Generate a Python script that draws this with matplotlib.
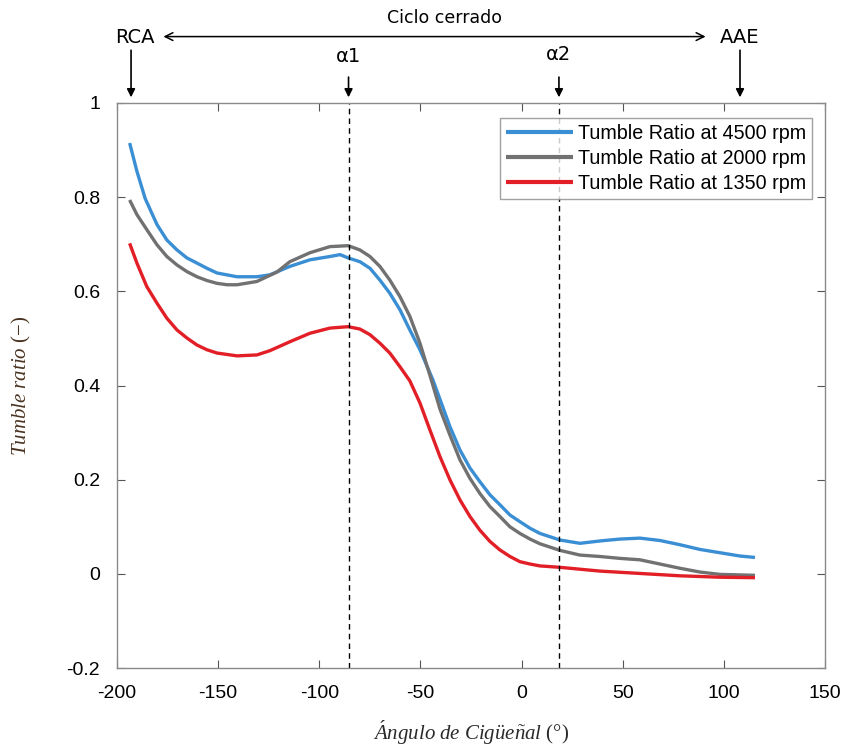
import matplotlib
matplotlib.use("Agg")
import matplotlib.pyplot as plt

# crank angle [deg] and tumble ratio for each engine speed
ang_4500 = [-193.7, -190.1, -186.0, -180.2, -175.3, -170.3, -165.4, -160.4, -155.5,
            -150.5, -140.6, -130.8, -124.4, -114.5, -104.6, -94.7, -89.7, -85.7,
            -79.9, -74.9, -70.0, -65.1, -60.1, -55.2, -50.2, -43.8, -35.4, -30.4,
            -25.5, -20.6, -15.6, -10.7, -5.7, -0.8, 4.2, 9.1, 19.0, 28.9, 38.8,
            48.6, 58.5, 68.4, 78.3, 88.2, 98.1, 108.0, 115.4]
tr_4500 = [0.915, 0.855, 0.797, 0.742, 0.709, 0.688, 0.671, 0.660, 0.649,
           0.639, 0.631, 0.631, 0.635, 0.653, 0.667, 0.674, 0.678, 0.671,
           0.663, 0.649, 0.624, 0.596, 0.561, 0.518, 0.476, 0.412, 0.313, 0.263,
           0.225, 0.196, 0.168, 0.147, 0.125, 0.111, 0.097, 0.086, 0.072, 0.065, 0.070,
           0.074, 0.076, 0.071, 0.062, 0.052, 0.045, 0.038, 0.035]

ang_2000 = [-193.7, -190.1, -185.2, -180.2, -175.3, -170.3, -165.4, -160.4, -155.5,
            -150.5, -145.5, -140.6, -130.8, -120.9, -114.5, -104.6, -94.7, -85.7,
            -79.9, -74.9, -70.0, -65.1, -60.1, -55.2, -50.2, -45.3, -40.3, -35.4,
            -30.4, -25.5, -20.6, -15.6, -10.7, -5.7, -0.8, 4.2, 9.1, 19.0, 28.9,
            38.8, 48.6, 58.5, 68.4, 78.3, 88.2, 98.1, 115.4]
tr_2000 = [0.794, 0.763, 0.731, 0.699, 0.674, 0.656, 0.642, 0.631, 0.623,
           0.617, 0.614, 0.614, 0.621, 0.641, 0.663, 0.682, 0.695, 0.697,
           0.688, 0.674, 0.653, 0.624, 0.589, 0.547, 0.490, 0.422, 0.350, 0.295,
           0.242, 0.203, 0.171, 0.143, 0.122, 0.100, 0.086, 0.074, 0.064, 0.050, 0.040,
           0.037, 0.033, 0.030, 0.021, 0.012, 0.004, -0.001, -0.003]

ang_1350 = [-193.7, -190.1, -185.2, -180.2, -175.3, -170.3, -165.4, -160.4, -155.5,
            -150.5, -140.6, -130.8, -124.4, -114.5, -104.6, -94.7, -85.7, -79.9,
            -74.9, -70.0, -65.1, -60.1, -55.2, -50.2, -45.3, -40.3, -35.4, -30.4,
            -25.5, -20.6, -15.6, -10.7, -5.7, -0.8, 4.2, 9.1, 19.0, 38.8, 58.5,
            78.3, 98.1, 115.4]
tr_1350 = [0.702, 0.660, 0.610, 0.575, 0.543, 0.518, 0.501, 0.486, 0.476,
           0.469, 0.463, 0.465, 0.474, 0.493, 0.511, 0.522, 0.525, 0.520,
           0.508, 0.490, 0.469, 0.440, 0.410, 0.363, 0.306, 0.249, 0.200, 0.157,
           0.122, 0.093, 0.069, 0.051, 0.037, 0.026, 0.021, 0.017, 0.014, 0.006, 0.001,
           -0.004, -0.007, -0.008]

labels = ["Tumble Ratio at 4500 rpm", "Tumble Ratio at 2000 rpm", "Tumble Ratio at 1350 rpm"]
colors = ["#3a8ed4", "#717171", "#e21f26"]

alpha1, alpha2 = -85.5, 18.5
rca, aae = -193, 108

xticks = [-200, -150, -100, -50, 0, 50, 100, 150]
yticks = [-0.2, 0, 0.2, 0.4, 0.6, 0.8, 1]
ytick_labels = ["-0.2", "0", "0.2", "0.4", "0.6", "0.8", "1"]

plt.rcParams["axes.unicode_minus"] = False
plt.rcParams["mathtext.fontset"] = "custom"
plt.rcParams["mathtext.it"] = "Liberation Serif:italic"
plt.rcParams["mathtext.rm"] = "Liberation Serif"

fig = plt.figure(figsize=(8.47, 7.49), dpi=100)
ax = fig.add_axes([0.138, 0.108, 0.836, 0.7545])

for x, y, lab, c in zip([ang_4500, ang_2000, ang_1350], [tr_4500, tr_2000, tr_1350], labels, colors):
    ax.plot(x, y, color=c, lw=2.4, label=lab, solid_capstyle="butt", solid_joinstyle="round")

for a in (alpha1, alpha2):
    ax.axvline(a, color="black", lw=1.0, ls=(0, (4, 3)))

ax.set_xlim(-200, 150)
ax.set_ylim(-0.2, 1)
ax.set_xticks(xticks)
ax.set_yticks(yticks)
ax.set_yticklabels(ytick_labels)
ax.tick_params(direction="in", top=True, right=True, length=6, width=0.8,
               color="#555555", labelsize=14, pad=12)
for lbl in ax.get_xticklabels() + ax.get_yticklabels():
    lbl.set_family("Liberation Sans")
for s in ax.spines.values():
    s.set_color("#8a8a8a")
    s.set_linewidth(1.0)

ax.set_xlabel(r"$\mathit{\acute{A}ngulo\ de\ Cig\ddot{u}e\tilde{n}al}$ (°)",
              family="Liberation Serif", fontsize=15, color="#2a2a2a", labelpad=12)
ax.set_ylabel(r"$\mathit{Tumble\ ratio}$ (−)", family="Liberation Serif",
              fontsize=15, color="#4a3320", labelpad=24)

leg = ax.legend(loc="upper right", bbox_to_anchor=(0.9816, 0.9735), fontsize=14.2,
                frameon=True, fancybox=False, handlelength=3.4, handletextpad=0.25,
                borderpad=0.3, labelspacing=0.3, borderaxespad=0)
leg.get_frame().set_edgecolor("#8a8a8a")
leg.get_frame().set_linewidth(1.0)
for t in leg.get_texts():
    t.set_family("Liberation Sans")
for h in leg.get_lines():
    h.set_linewidth(3.0)

# markers above the plot: RCA, alpha1, alpha2, AAE and the closed-cycle span
fam = ["Liberation Sans Narrow", "DejaVu Sans"]
arrow_kw = dict(arrowstyle="-|>", color="black", lw=1.2, mutation_scale=12,
                shrinkA=0, shrinkB=0)
for xa, ytop in [(rca, 1.112), (alpha1, 1.055), (alpha2, 1.055), (aae, 1.112)]:
    ax.annotate("", xy=(xa, 1.012), xytext=(xa, ytop), arrowprops=arrow_kw,
                annotation_clip=False)

ax.text(rca + 2, 1.139, "RCA", ha="center", va="center", fontsize=14, family=fam)
ax.text(aae, 1.139, "AAE", ha="center", va="center", fontsize=14, family=fam)
ax.text(alpha1, 1.098, "α1", ha="center", va="center", fontsize=14, family=fam)
ax.text(alpha2, 1.102, "α2", ha="center", va="center", fontsize=14, family=fam)
ax.text(-38, 1.181, "Ciclo cerrado", ha="center", va="center", fontsize=12.5, family=fam)
ax.annotate("", xy=(-177, 1.141), xytext=(91, 1.141),
            arrowprops=dict(arrowstyle="<->", color="black", lw=1.1,
                            mutation_scale=14, shrinkA=0, shrinkB=0),
            annotation_clip=False)

fig.savefig("out.png", dpi=100)
